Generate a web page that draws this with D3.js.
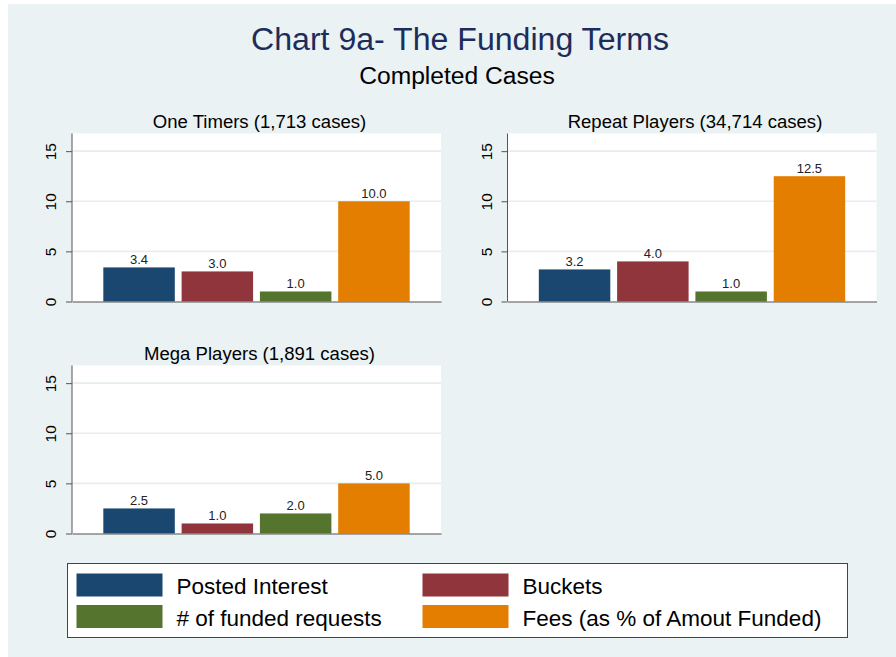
<!DOCTYPE html>
<html>
<head>
<meta charset="utf-8">
<script src="https://cdn.jsdelivr.net/npm/d3@7"></script>
<style>
  html, body { margin: 0; padding: 0; background: #ffffff; }
  svg { display: block; }
  text { font-family: "Liberation Sans", Arial, sans-serif; }
</style>
</head>
<body>
<svg id="chart" width="896" height="657"></svg>
<script>
// ---- data ----
const categories = ["Posted Interest", "Buckets", "# of funded requests", "Fees (as % of Amout Funded)"];
const colors = ["#1a476f", "#90353b", "#55752f", "#e37e00"];
const panelTitles = ["One Timers (1,713 cases)", "Repeat Players (34,714 cases)", "Mega Players (1,891 cases)"];
const oneTimers = [3.4, 3.0, 1.0, 10.0];
const repeatPlayers = [3.2, 4.0, 1.0, 12.5];
const megaPlayers = [2.5, 1.0, 2.0, 5.0];
const yTicks = [0, 5, 10, 15];
const yMax = 16.76;

const svg = d3.select("#chart");

// widen text horizontally to match the reference's wider glyphs
function stretch(sel, f) {
  sel.each(function () {
    const w = this.getComputedTextLength();
    d3.select(this).attr("textLength", w * f).attr("lengthAdjust", "spacingAndGlyphs");
  });
  return sel;
}

// background
svg.append("rect").attr("x", 8).attr("y", 4).attr("width", 888).attr("height", 653).attr("fill", "#eaf2f3");

// titles
stretch(svg.append("text").attr("x", 460).attr("y", 49.5).attr("text-anchor", "middle")
  .attr("font-size", 31).attr("fill", "#1c2d5c").text("Chart 9a- The Funding Terms"), 1.035);
stretch(svg.append("text").attr("x", 457).attr("y", 83.5).attr("text-anchor", "middle")
  .attr("font-size", 23).attr("fill", "#000").text("Completed Cases"), 1.07);

const panels = [
  { title: panelTitles[0], values: oneTimers, x: 72, y: 133.5 },
  { title: panelTitles[1], values: repeatPlayers, x: 507.5, y: 133.5 },
  { title: panelTitles[2], values: megaPlayers, x: 72, y: 365.5 }
];
const pw = 369, ph = 168;

panels.forEach(p => {
  const g = svg.append("g").attr("transform", `translate(${p.x},${p.y})`);
  const x = d3.scaleBand().domain(categories).range([0, pw]).paddingInner(0.087).paddingOuter(0.4);
  const y = d3.scaleLinear().domain([0, yMax]).range([ph, 0]);

  g.append("rect").attr("width", pw).attr("height", ph).attr("fill", "#ffffff");

  // gridlines
  g.selectAll(".grid").data(yTicks.filter(t => t > 0)).enter().append("line")
    .attr("x1", 0).attr("x2", pw)
    .attr("y1", d => y(d)).attr("y2", d => y(d))
    .attr("stroke", "#e6eef0").attr("stroke-width", 1.6);

  // bars
  g.selectAll(".bar").data(p.values).enter().append("rect")
    .attr("x", (d, i) => x(categories[i]))
    .attr("y", d => y(d))
    .attr("width", x.bandwidth())
    .attr("height", d => ph - y(d))
    .attr("fill", (d, i) => colors[i]);

  // value labels
  g.selectAll(".lbl").data(p.values).enter().append("text")
    .attr("x", (d, i) => x(categories[i]) + x.bandwidth() / 2)
    .attr("y", d => y(d) - 3)
    .attr("text-anchor", "middle").attr("font-size", 13).attr("fill", "#222")
    .text(d => d3.format(".1f")(d));

  // y axis
  const ya = g.append("g").call(d3.axisLeft(y).tickValues(yTicks).tickSize(6).tickPadding(0).tickFormat(d3.format("d")));
  ya.select(".domain").attr("stroke", "#555").attr("d", `M0,0V${ph}`);
  ya.selectAll(".tick line").attr("stroke", "#555");
  ya.selectAll(".tick text")
    .attr("font-size", 15.5).attr("fill", "#000")
    .attr("font-family", "'Liberation Sans', Arial, sans-serif")
    .attr("transform", "rotate(-90)")
    .attr("x", 0).attr("y", -16).attr("dy", "0").attr("text-anchor", "middle");

  // x axis line
  const xa = g.append("g").attr("transform", `translate(0,${ph})`)
    .call(d3.axisBottom(x).tickSize(0).tickFormat(""));
  xa.select(".domain").attr("stroke", "#555");

  // panel title
  stretch(g.append("text").attr("x", pw / 2 + 3).attr("y", -6).attr("text-anchor", "middle")
    .attr("font-size", 17.5).attr("fill", "#000").text(p.title), 1.06);
});

// legend
const lg = svg.append("g");
lg.append("rect").attr("x", 67.5).attr("y", 563.5).attr("width", 780).attr("height", 74)
  .attr("fill", "#fff").attr("stroke", "#444").attr("stroke-width", 1);
const legPos = [
  { x: 76.5, y: 573.5 }, { x: 422.5, y: 573.5 },
  { x: 76.5, y: 605 }, { x: 422.5, y: 605 }
];
categories.forEach((c, i) => {
  const pos = legPos[i];
  lg.append("rect").attr("x", pos.x).attr("y", pos.y).attr("width", 86).attr("height", 23).attr("fill", colors[i]);
  lg.append("text").attr("x", pos.x + 100).attr("y", pos.y + 20.5)
    .attr("font-size", 22.5).attr("fill", "#000").text(c);
});
</script>
</body>
</html>
